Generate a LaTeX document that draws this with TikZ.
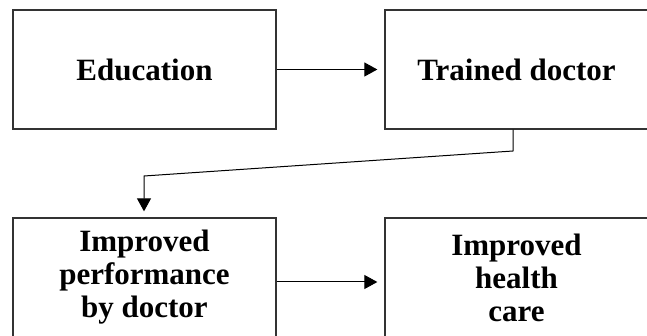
\documentclass[tikz,border=0pt]{standalone}
\usepackage{fontspec}
\setmainfont{Liberation Serif}
\usetikzlibrary{arrows.meta}
\begin{document}
\begin{tikzpicture}[x=1pt,y=-1pt,
  box/.style={draw=black!80, line width=1.3pt, minimum width=263pt, minimum height=119pt,
    inner sep=0pt, align=center, font=\bfseries\fontsize{31}{33}\selectfont},
  conn/.style={draw=black, line width=1pt, -{Triangle[length=13pt,width=14pt]}}]
\useasboundingbox (0,0) rectangle (647,336);
\clip (0,0) rectangle (647,336);
\node[box] (A) at (144.5,69.5) {Education};
\node[box] (B) at (516.5,69.5) {Trained doctor};
\node[box] (C) at (144.5,277.5) {Improved\\performance\\by doctor};
\node[box] (D) at (516.5,277.5) {Improved\\health\\care};
\draw[conn, shorten >=7pt] (A.east) -- (B.west);
\draw[conn, shorten >=7pt] (C.east |- 0,282) -- (D.west |- 0,282);
\coordinate (k1) at (513,151);
\coordinate (k2) at (144,176);
\draw[conn, shorten >=6pt] (B.south -| k1) -- (k1) -- (k2) -- (k2 |- C.north);
\end{tikzpicture}
\end{document}
